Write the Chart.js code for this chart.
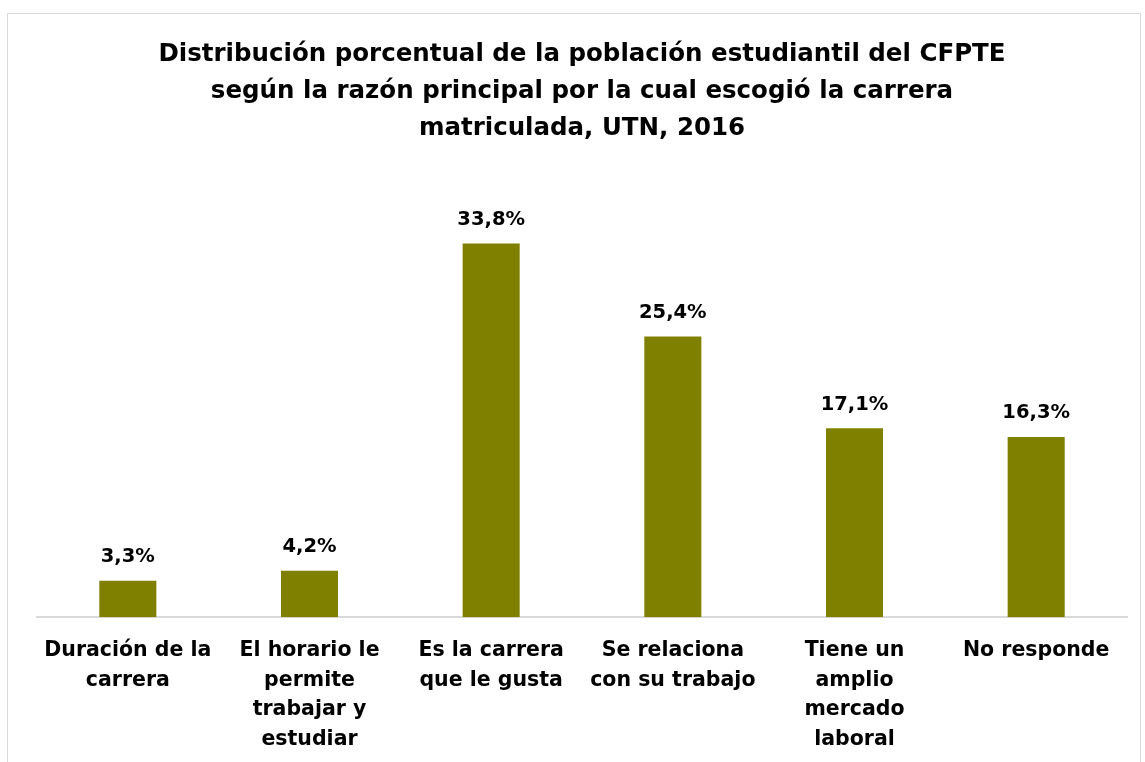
<!DOCTYPE html>
<html>
<head>
<meta charset="utf-8">
<script src="https://cdn.jsdelivr.net/npm/chart.js@4/dist/chart.umd.min.js"></script>
<style>
  html, body { margin: 0; padding: 0; background: #fff; overflow: hidden; }
  #wrap { position: relative; width: 1145px; height: 762px; overflow: hidden; }
  #frame { position: absolute; left: 7px; top: 13px; width: 1132px; height: 760px;
           border: 1px solid #d9d9d9; pointer-events: none; }
</style>
</head>
<body>
<div id="wrap">
  <canvas id="canvas" width="1145" height="780"></canvas>
  <div id="frame"></div>
</div>
<script>
var categories = [
  ["Duración de la", "carrera"],
  ["El horario le", "permite", "trabajar y", "estudiar"],
  ["Es la carrera", "que le gusta"],
  ["Se relaciona", "con su trabajo"],
  ["Tiene un", "amplio", "mercado", "laboral"],
  ["No responde"]
];
var porcentajes = [3.3, 4.2, 33.8, 25.4, 17.1, 16.3];
var titulo = [
  "Distribución porcentual de la población estudiantil del CFPTE",
  "según la razón principal por la cual escogió la carrera",
  "matriculada, UTN, 2016"
];

var fontFamily = "'DejaVu Sans', sans-serif";

function formatPct(v) {
  return v.toFixed(1).replace(".", ",") + "%";
}

// labels above each bar
var barLabels = {
  id: "barLabels",
  afterDatasetsDraw: function(chart) {
    var ctx = chart.ctx;
    var meta = chart.getDatasetMeta(0);
    ctx.save();
    ctx.font = "bold 19.5px " + fontFamily;
    ctx.fillStyle = "#000";
    ctx.textAlign = "center";
    ctx.textBaseline = "bottom";
    meta.data.forEach(function(bar, i) {
      ctx.fillText(formatPct(porcentajes[i]), bar.x, bar.y - 14);
    });
    ctx.restore();
  }
};

new Chart(document.getElementById("canvas").getContext("2d"), {
  type: "bar",
  data: {
    labels: categories,
    datasets: [{
      data: porcentajes,
      backgroundColor: "#808000",
      borderWidth: 0,
      barPercentage: 0.314,
      categoryPercentage: 1
    }]
  },
  options: {
    responsive: false,
    animation: false,
    layout: { padding: { left: 37, right: 18, top: 14, bottom: 7 } },
    plugins: {
      legend: { display: false },
      tooltip: { enabled: false },
      title: {
        display: true,
        text: titulo,
        color: "#000",
        font: { family: fontFamily, size: 24.5, weight: "bold", lineHeight: 1.51 },
        padding: { top: 22, bottom: 28 }
      }
    },
    scales: {
      y: {
        display: false,
        min: 0,
        max: 40
      },
      x: {
        grid: { display: false, drawTicks: false },
        border: { display: true, color: "#d9d9d9", width: 2 },
        ticks: {
          color: "#000",
          maxRotation: 0,
          autoSkip: false,
          padding: 18,
          font: { family: fontFamily, size: 20.5, weight: "bold", lineHeight: 1.46 }
        }
      }
    }
  },
  plugins: [barLabels]
});
</script>
</body>
</html>
